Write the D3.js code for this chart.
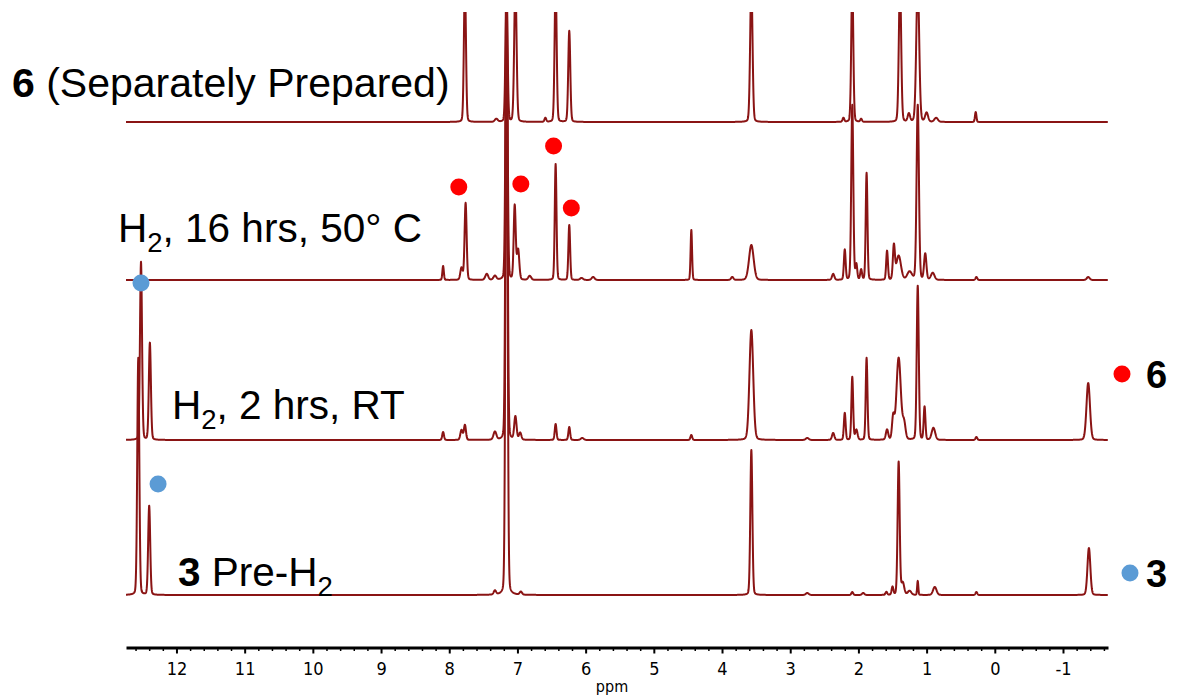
<!DOCTYPE html>
<html><head><meta charset="utf-8">
<script src="https://cdn.jsdelivr.net/npm/d3@7/dist/d3.min.js"></script>
<style>body{margin:0;background:#fff;} svg{display:block;}</style>
</head><body>
<svg id="c" width="1177" height="696"></svg>
<script>
// ---- data ----
const ppmTicks = [12, 11, 10, 9, 8, 7, 6, 5, 4, 3, 2, 1, 0, -1];
const ppmDomain = [12.74, -1.66];
const spectrumOffsets = [473, 315, 155, 0];   // stacking offsets (intensity units)
// peaks: [ppm, intensity, fwhm(ppm)]
const peaks6 = [
  [7.77, 140, 0.035], [7.31, 3, 0.05], [7.16, 140, 0.035], [7.03, 140, 0.04],
  [6.59, 4, 0.03], [6.44, 140, 0.035], [6.24, 91, 0.035],
  [3.57, 140, 0.04], [2.22, 4, 0.03], [2.09, 140, 0.035], [1.96, 3, 0.03],
  [1.39, 140, 0.04], [1.26, 8, 0.04], [1.13, 140, 0.05], [1.00, 9, 0.05],
  [0.86, 4, 0.06], [0.28, 10, 0.025]
];
const peaks16h = [
  [8.09, 14, 0.025], [7.82, 12, 0.04], [7.76, 77, 0.035], [7.45, 6, 0.05],
  [7.33, 4, 0.05], [7.16, 300, 0.035], [7.04, 74, 0.035], [6.99, 30, 0.04],
  [6.82, 4, 0.05], [6.44, 116, 0.03], [6.24, 55, 0.03], [6.06, 2, 0.05],
  [5.89, 3, 0.05], [4.45, 50, 0.025], [3.85, 3, 0.04], [3.57, 35, 0.08],
  [2.37, 6, 0.04], [2.20, 30, 0.03], [2.09, 175, 0.035], [2.03, 15, 0.03],
  [1.96, 10, 0.03], [1.88, 107, 0.03], [1.58, 29, 0.03], [1.48, 33, 0.035],
  [1.41, 24, 0.08], [1.25, 8, 0.08], [1.13, 175, 0.04], [1.02, 26, 0.04],
  [0.91, 7, 0.06], [0.27, 3, 0.03], [-1.37, 3, 0.05]
];
const peaks2h = [
  [12.52, 178, 0.035], [12.39, 97, 0.035], [8.09, 8, 0.03], [7.82, 10, 0.04],
  [7.77, 15, 0.035], [7.33, 8, 0.05], [7.16, 460, 0.035], [7.03, 23, 0.04],
  [6.96, 7, 0.04], [6.44, 16, 0.03], [6.24, 13, 0.03], [6.05, 2, 0.05],
  [4.45, 5, 0.03], [3.57, 110, 0.065], [2.75, 2, 0.05], [2.37, 7, 0.04],
  [2.20, 27, 0.03], [2.09, 63, 0.03], [2.03, 10, 0.04], [1.88, 82, 0.03],
  [1.58, 10, 0.04], [1.49, 22, 0.04], [1.41, 82, 0.075], [1.33, 16, 0.05],
  [1.13, 154, 0.035], [1.03, 33, 0.03], [0.90, 12, 0.06], [0.27, 3, 0.03],
  [-1.37, 57, 0.06]
];
const peaks3 = [
  [12.56, 237, 0.035], [12.40, 89, 0.035], [7.33, 4, 0.04], [7.16, 620, 0.035],
  [6.95, 3, 0.04], [3.57, 145, 0.035], [2.75, 2, 0.05], [2.09, 3, 0.03],
  [1.93, 2, 0.04], [1.59, 3, 0.03], [1.50, 8, 0.03], [1.41, 133, 0.035],
  [1.35, 12, 0.05], [1.25, 4, 0.06], [1.13, 14, 0.02], [0.88, 8, 0.06],
  [0.27, 3, 0.03], [-1.38, 47, 0.05]
];
const spectra = [peaks6, peaks16h, peaks2h, peaks3];
// markers: [ppm, intensity above baseline, spectrum index]
const redMarkers = [[7.86, 93, 1], [6.95, 96, 1], [6.47, 134, 1], [6.21, 72, 1]];
const blueMarkers = [[12.52, 157, 2], [12.27, 111, 3]];

// ---- drawing ----
const svg = d3.select("#c");
const W = 1177, H = 696;
const lineColor = "#8a1414";
const x = d3.scaleLinear().domain(ppmDomain).range([126, 1108]);
const y = d3.scaleLinear().domain([0, 473]).range([595, 122]);

svg.append("defs").append("clipPath").attr("id", "clip")
  .append("rect").attr("x", 0).attr("y", 12).attr("width", W).attr("height", H - 12);

function shape(p, pk) {
  const d = p - pk[0], w = pk[2];
  const g = Math.exp(-4 * Math.LN2 * d * d / (w * w));
  const l = 1 / (1 + 4 * d * d / (w * w));
  return pk[1] * (0.88 * g + 0.12 * l);
}
function trace(peaks) {
  const pts = [];
  for (let p = ppmDomain[0]; p >= ppmDomain[1]; p -= 0.003) pts.push(p);
  peaks.forEach(pk => pts.push(pk[0]));
  pts.sort((a, b) => b - a);
  return pts.map(p => [p, d3.sum(peaks, pk => shape(p, pk))]);
}

const gSpec = svg.append("g").attr("clip-path", "url(#clip)");
spectra.forEach((peaks, i) => {
  const off = spectrumOffsets[i];
  const line = d3.line().x(d => x(d[0])).y(d => y(off + d[1]));
  gSpec.append("path").datum(trace(peaks))
    .attr("d", line).attr("fill", "none")
    .attr("stroke", lineColor).attr("stroke-width", 2)
    .attr("stroke-linejoin", "round");
});

// markers
svg.append("g").selectAll("circle").data(redMarkers).join("circle")
  .attr("cx", d => x(d[0])).attr("cy", d => y(spectrumOffsets[d[2]] + d[1]))
  .attr("r", 8.5).attr("fill", "#ff0000");
svg.append("g").selectAll("circle").data(blueMarkers).join("circle")
  .attr("cx", d => x(d[0])).attr("cy", d => y(spectrumOffsets[d[2]] + d[1]))
  .attr("r", 8.5).attr("fill", "#5b9bd5");

// axis
const axisY = 647.5;
const minorTicks = d3.range(-16, 128, 2).map(v => v / 10).filter(v => v <= 12.7 && v >= -1.66 && Math.abs(v - Math.round(v)) > 1e-6);
const gMinor = svg.append("g").attr("transform", `translate(0,${axisY})`)
  .call(d3.axisBottom(x).tickValues(minorTicks).tickSize(3.5).tickSizeOuter(0).tickFormat(""));
gMinor.select(".domain").remove();
gMinor.selectAll("line").attr("stroke-width", 1.5);
const gAxis = svg.append("g").attr("transform", `translate(0,${axisY})`)
  .call(d3.axisBottom(x).tickValues(ppmTicks).tickSize(6).tickSizeOuter(0).tickPadding(9).tickFormat(d3.format("d")));
gAxis.select(".domain").attr("stroke-width", 3).attr("stroke", "#000");
gAxis.selectAll(".tick line").attr("stroke-width", 2).attr("stroke", "#000");
gAxis.selectAll(".tick text").attr("font-family", "'Liberation Sans Narrow','DejaVu Sans Condensed',sans-serif")
  .attr("font-size", 18).attr("fill", "#000").text(d => d < 0 ? "-" + Math.abs(d) : d);
svg.append("text").attr("x", 612).attr("y", 692).attr("text-anchor", "middle")
  .attr("font-family", "'Liberation Sans Narrow','DejaVu Sans Condensed',sans-serif")
  .attr("font-size", 16).text("ppm");

// labels
const FONT = "'Liberation Sans', Arial, sans-serif";
function label(xp, yp, parts, size) {
  const t = svg.append("text").attr("x", xp).attr("y", yp)
    .attr("font-family", FONT).attr("font-size", size).attr("fill", "#000");
  let shifted = false;
  parts.forEach(pt => {
    const s = t.append("tspan").text(pt.t);
    if (pt.bold) s.attr("font-weight", "bold");
    if (pt.sub) { s.attr("font-size", size * 0.68).attr("dy", size * 0.24); shifted = true; }
    else if (shifted) { s.attr("dy", -size * 0.24); shifted = false; }
  });
}
label(12, 97, [{t: "6", bold: true}, {t: " (Separately Prepared)"}], 41);
label(118, 242, [{t: "H"}, {t: "2", sub: true}, {t: ", 16 hrs, 50° C"}], 40.5);
label(172, 419, [{t: "H"}, {t: "2", sub: true}, {t: ", 2 hrs, RT"}], 40.5);
label(178, 586, [{t: "3", bold: true}, {t: " Pre-H"}, {t: "2", sub: true}], 40.5);

// right-side legend
svg.append("circle").attr("cx", 1122).attr("cy", 374).attr("r", 8.5).attr("fill", "#ff0000");
svg.append("text").attr("x", 1146).attr("y", 388).attr("font-family", FONT)
  .attr("font-weight", "bold").attr("font-size", 38).text("6");
svg.append("circle").attr("cx", 1130).attr("cy", 573).attr("r", 8.5).attr("fill", "#5b9bd5");
svg.append("text").attr("x", 1146).attr("y", 587).attr("font-family", FONT)
  .attr("font-weight", "bold").attr("font-size", 38).text("3");
</script>
</body></html>
